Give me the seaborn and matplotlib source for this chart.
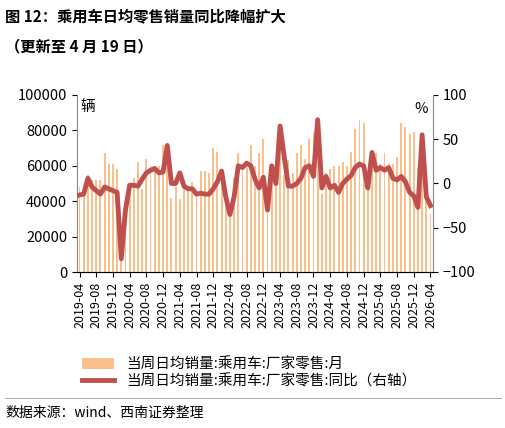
import matplotlib
matplotlib.use('Agg')
import matplotlib.pyplot as plt
import numpy as np
import pandas as pd
import seaborn as sns

months = pd.period_range('2019-04', '2026-04', freq='M').strftime('%Y-%m').tolist()

# 当周日均销量 (辆)
sales = np.array([
    48, 47, 55, 52, 52, 52, 67, 61, 61, 58,
    6, 35, 50, 53, 62, 47, 64, 60, 60, 60,
    72, 69, 42, 48, 41, 52, 46, 51, 46, 57,
    57, 56, 70, 68, 50, 41, 34, 53, 67, 58,
    59, 72, 60, 67, 75, 44, 60, 55, 79, 55,
    63, 56, 67, 72, 64, 75, 79, 85, 44, 56,
    58, 60, 60, 62, 60, 68, 81, 86, 84, 54,
    63, 67, 61, 67, 61, 61, 65, 84, 82, 78,
    79, 59, 57, 52, 33]) * 1000

# 同比 (%)
yoy = [
    -13, -12, 6, -4, -8, -12, -4, -6, -8, -10,
    -85, -30, -2, -2, -3, 5, 12, 15, 17, 12,
    13, 43, 0, 0, 12, -3, -6, -6, -12, -11,
    -12, -12, -6, 2, 14, -15, -35, -15, 20, 18,
    23, 20, 5, -5, 7, -30, 20, 0, 65, 30,
    -3, -3, 0, 6, 18, 20, 8, 72, -5, 8,
    -5, -2, -10, 0, 5, 9, 18, 22, 20, -5,
    35, 15, 18, 15, 18, 6, 4, 8, 2, -10,
    -14, -27, 55, -15, -25]

plt.rcParams['font.family'] = ['Noto Sans CJK SC', 'DejaVu Sans']

df = pd.DataFrame({'month': months, 'sales': sales, 'yoy': yoy})
x = np.arange(len(df))

fig = plt.figure(figsize=(5.06, 4.28), dpi=100)
ax = fig.add_axes([77 / 506, 1 - 272 / 428, 356 / 506, 177 / 428])

bar_c = '#F9C08E'
line_c = '#C0504D'
sns.barplot(data=df, x='month', y='sales', color=bar_c, width=0.45, ax=ax,
            saturation=1, label='当周日均销量:乘用车:厂家零售:月')
if ax.get_legend():
    ax.get_legend().remove()
ax.set_xlim(-0.6, len(df) - 0.4)
ax.set_ylim(0, 100000)
ax.set_yticks(range(0, 100001, 20000))
ax.set_xticks(x[::4])
ax.set_xticklabels(months[::4], rotation=90, fontsize=9)
ax.tick_params(axis='y', labelsize=10.5)
ax.set_xlabel('')
ax.set_ylabel('')
for s in ['top', 'right']:
    ax.spines[s].set_visible(False)
ax.spines['left'].set_color('#888888')
ax.spines['bottom'].set_color('#888888')
ax.text(0.01, 0.97, '辆', transform=ax.transAxes, fontsize=10.5, va='top')

ax2 = ax.twinx()
sns.lineplot(x=x, y=df['yoy'], color=line_c, lw=3.5, ax=ax2,
             label='当周日均销量:乘用车:厂家零售:同比（右轴）')
ax2.set_ylim(-100, 100)
ax2.set_yticks([-100, -50, 0, 50, 100])
ax2.tick_params(axis='y', labelsize=10.5)
ax2.set_ylabel('')
for s in ['top', 'left']:
    ax2.spines[s].set_visible(False)
ax2.spines['right'].set_color('#888888')
ax2.text(0.985, 0.9, '%', transform=ax2.transAxes, fontsize=10.5, ha='right')
ax2.get_legend().remove()

h1, l1 = ax.get_legend_handles_labels()
h2, l2 = ax2.get_legend_handles_labels()
fig.legend(h1 + h2, l1 + l2, loc='upper left', bbox_to_anchor=(75 / 506, 1 - 350 / 428),
           frameon=False, fontsize=10.5, handlelength=2.2, labelspacing=0.15, borderpad=0)

fig.text(0.01, 1 - 16 / 428, '图 12：乘用车日均零售销量同比降幅扩大', fontsize=11, fontweight='bold', va='center')
fig.text(0.01, 1 - 46 / 428, '（更新至 4 月 19 日）', fontsize=11, fontweight='bold', va='center')
fig.add_artist(plt.Line2D([0.01, 0.99], [1 - 398 / 428] * 2, color='#999999', lw=0.6))
fig.text(0.01, 1 - 413 / 428, '数据来源：wind、西南证券整理', fontsize=10, style='italic', va='center')

fig.savefig('out.png', dpi=100)
